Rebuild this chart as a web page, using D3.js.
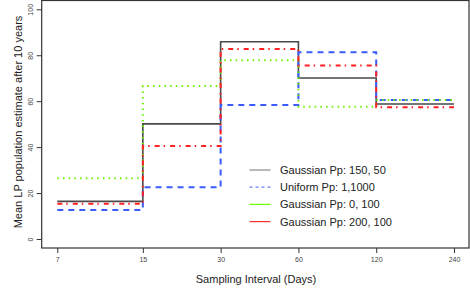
<!DOCTYPE html>
<html><head><meta charset="utf-8">
<script src="https://cdn.jsdelivr.net/npm/d3@7"></script>
<style>body{margin:0;background:#fff}svg{display:block}</style>
</head><body>
<svg id="c" width="470" height="289"></svg>
<script>
const intervals = [7, 15, 30, 60, 120, 240];
const xTicks = [7, 15, 30, 60, 120, 240];
const yTicks = [0, 20, 40, 60, 80, 100];
const seriesNames = ["Gaussian Pp: 150, 50", "Uniform Pp: 1,1000", "Gaussian Pp: 0, 100", "Gaussian Pp: 200, 100"];
const gauss150 = [16.4, 50.1, 85.9, 70.1, 58.8];
const uniform = [12.6, 22.5, 58.3, 81.3, 60.5];
const gauss0 = [26.4, 66.6, 77.8, 57.6, 60.5];
const gauss200 = [15.4, 40.5, 82.7, 75.5, 57.4];
const seriesValues = [gauss150, uniform, gauss0, gauss200];

const styles = [
  {color: "#4a4a4a", width: 1.6, dash: null, legColor: "#8a8a8a", legDash: null},
  {color: "#3a5cff", width: 2, dash: "6,5", legColor: "#6a7cff", legDash: "3,3"},
  {color: "#6cf000", width: 2, dash: "1.5,4.2", legColor: "#66ff00", legDash: null},
  {color: "#ff2020", width: 2, dash: "5,4,1.5,5", legColor: "#ff3030", legDash: null}
];

const svg = d3.select("#c");
const x = d3.scaleLog().domain([7, 240]).range([57.3, 454]);
const y = d3.scaleLinear().domain([0, 100]).range([239, 9.3]);
const box = {l: 41.7, r: 469, t: 0.5, b: 248};

const line = d3.line().x(d => x(d[0])).y(d => y(d[1])).curve(d3.curveStepAfter);
seriesValues.forEach((vals, i) => {
  const pts = intervals.map((t, j) => [t, vals[Math.min(j, vals.length - 1)]]);
  const p = svg.append("path").attr("d", line(pts)).attr("fill", "none")
    .attr("stroke", styles[i].color).attr("stroke-width", styles[i].width);
  if (styles[i].dash) p.attr("stroke-dasharray", styles[i].dash);
});

// box
svg.append("rect").attr("x", box.l).attr("y", box.t).attr("width", box.r - box.l).attr("height", box.b - box.t)
  .attr("fill", "none").attr("stroke", "#333").attr("stroke-width", 1.2);

// x axis
const xa = svg.append("g").attr("transform", `translate(0,${box.b})`)
  .call(d3.axisBottom(x).tickValues(xTicks).tickFormat(d3.format("d")).tickSize(5).tickSizeOuter(0));
xa.select(".domain").remove();
xa.selectAll("line").attr("stroke", "#333");
xa.selectAll("text").attr("font-family", "Liberation Sans, Arial, sans-serif").attr("font-size", 7).attr("fill", "#444").attr("dy", "0.45em").attr("y", 11);

// y axis
const ya = svg.append("g").attr("transform", `translate(${box.l},0)`)
  .call(d3.axisLeft(y).tickValues(yTicks).tickSize(5).tickSizeOuter(0));
ya.select(".domain").remove();
ya.selectAll("line").attr("stroke", "#333");
ya.selectAll("text").attr("font-family", "Liberation Sans, Arial, sans-serif").attr("font-size", 7).attr("fill", "#444")
  .attr("x", null).attr("dy", null)
  .attr("text-anchor", "middle")
  .attr("transform", "translate(-11,0) rotate(-90) translate(0,2.5)");

// axis titles
svg.append("text").attr("x", 256).attr("y", 283).attr("text-anchor", "middle")
  .attr("font-family", "Liberation Sans, Arial, sans-serif").attr("font-size", 11).attr("fill", "#222")
  .text("Sampling Interval (Days)");
svg.append("text").attr("transform", "translate(22,122) rotate(-90)").attr("text-anchor", "middle")
  .attr("font-family", "Liberation Sans, Arial, sans-serif").attr("font-size", 11).attr("fill", "#222")
  .text("Mean LP population estimate after 10 years");

// legend
const lg = svg.append("g");
seriesNames.forEach((n, i) => {
  const yy = 170 + i * 17.2;
  const l = lg.append("line").attr("x1", 249.5).attr("x2", 270.5).attr("y1", yy).attr("y2", yy)
    .attr("stroke", styles[i].legColor).attr("stroke-width", 1.2);
  if (styles[i].legDash) l.attr("stroke-dasharray", styles[i].legDash);
  lg.append("text").attr("x", 280).attr("y", yy + 4).attr("font-family", "Liberation Sans, Arial, sans-serif")
    .attr("font-size", 11).attr("fill", "#222").text(n);
});
</script>
</body></html>
